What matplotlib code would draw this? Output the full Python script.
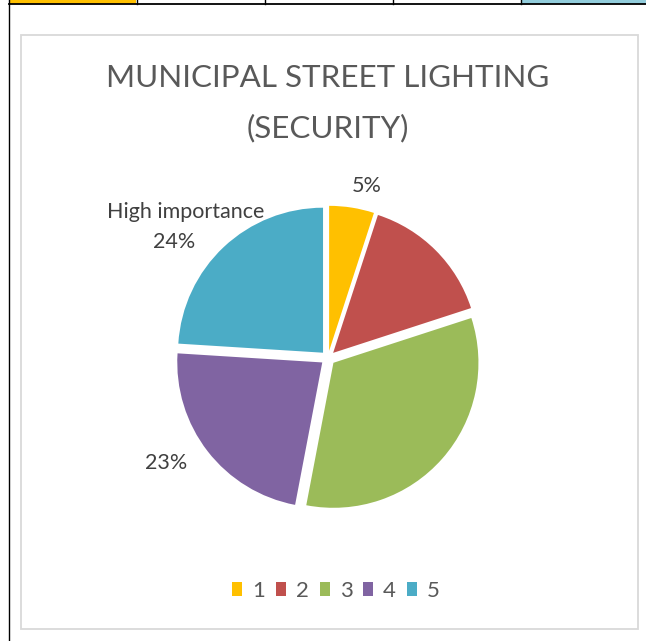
import matplotlib.pyplot as plt
from matplotlib.lines import Line2D
from matplotlib.patches import Patch, Rectangle

W, H = 646, 641
DPI = 100

TITLE_LINES = ["MUNICIPAL STREET LIGHTING", "(SECURITY)"]
categories = ["1", "2", "3", "4", "5"]
shares = [5, 15, 33, 23, 24]
colors = ["#FFC000", "#C0504D", "#9BBB59", "#8064A2", "#4BACC6"]
TEXT = "#595959"
FONT = "Lato"


def px(x, y):
    """pixel (from top-left) -> figure fraction"""
    return x / W, 1 - y / H


fig = plt.figure(figsize=(W / DPI, H / DPI), dpi=DPI)
fig.patch.set_facecolor("white")

# spreadsheet row peeking above the chart
fig.add_artist(Rectangle(px(9, 3.5), 127 / W, 3.5 / H, transform=fig.transFigure,
                         facecolor="#FFC000", edgecolor="none"))
fig.add_artist(Rectangle(px(521, 3.5), 125 / W, 3.5 / H, transform=fig.transFigure,
                         facecolor="#92CDDC", edgecolor="none"))
fig.add_artist(Line2D([9 / W, 1], [1 - 3.8 / H] * 2, transform=fig.transFigure,
                      color="black", lw=1.3))
for x in [136.5, 264.5, 392.5, 520.5]:
    fig.add_artist(Line2D([x / W] * 2, [1 - 3.8 / H, 1], transform=fig.transFigure,
                          color="black", lw=1.0))
fig.add_artist(Line2D([8.5 / W] * 2, [0, 1], transform=fig.transFigure,
                      color="black", lw=1.0))

# chart area border
fig.add_artist(Rectangle(px(20.5, 628.5), 617 / W, 594 / H, transform=fig.transFigure,
                         facecolor="none", edgecolor="#D9D9D9", lw=1.3))

for line, y in zip(TITLE_LINES, [78, 128]):
    fig.text(*px(328, y), line, ha="center", va="center", fontsize=22.6,
             color=TEXT, family=FONT)

# pie: centre (328, 358) px, radius 145 px
R, CX, CY = 145, 328, 358
span = 1.12
ax = fig.add_axes([(CX - span * R) / W, (H - CY - span * R) / H,
                   2 * span * R / W, 2 * span * R / H])
ax.pie(shares, colors=colors, startangle=90, counterclock=False,
       explode=[0.05] * len(shares), radius=1,
       wedgeprops=dict(linewidth=0))
ax.set_xlim(-span, span)
ax.set_ylim(-span, span)
ax.set_aspect("equal")
ax.axis("off")

lab = dict(ha="center", va="center", fontsize=15.5, color="#404040", family=FONT)
ax.text(0.266, 1.183, f"{shares[0]}%", **lab)
ax.text(-0.979, 1.007, "High importance", **lab)
ax.text(-1.062, 0.80, f"{shares[4]}%", **lab)
ax.text(-1.117, -0.724, f"{shares[3]}%", **lab)

handles = [Patch(facecolor=c, edgecolor="none") for c in colors]
leg = fig.legend(handles, categories, loc="center", bbox_to_anchor=px(336, 591),
                 ncol=5, frameon=False, handlelength=0.45, handleheight=0.6,
                 handletextpad=0.45, columnspacing=0.48,
                 prop=dict(family=FONT, size=16))
for t in leg.get_texts():
    t.set_color(TEXT)

fig.savefig("out.png", dpi=DPI, facecolor="white")
